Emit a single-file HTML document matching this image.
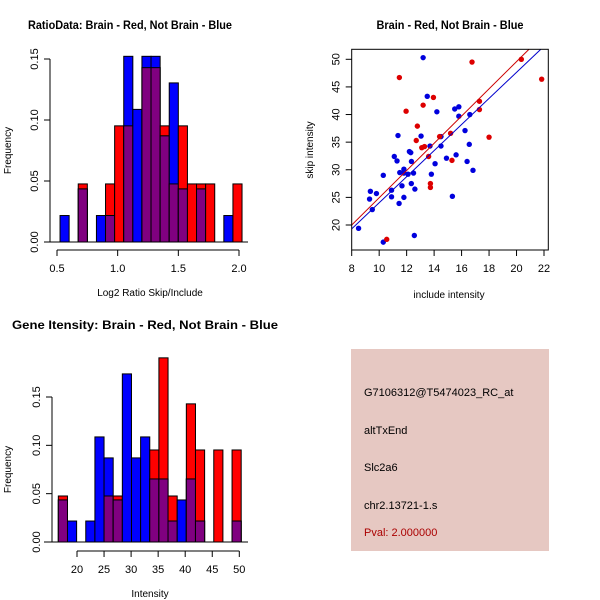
<!DOCTYPE html>
<html><head><meta charset="utf-8"><style>
body{margin:0;background:#fff;}
svg{display:block;font-family:"Liberation Sans",Arial,sans-serif;}
</style></head><body>
<svg id="chart" width="600" height="600" viewBox="0 0 600 600"></svg>
<script>
// ---- Panel 1: ratio histogram ----
const ratioStart = 0.525, ratioWidth = 0.075;
const ratioRed  = [0,0,0.0476,0,0,0.0476,0.0952,0.0952,0,0.1429,0.1429,0.0952,0.0476,0.0952,0.0476,0.0476,0.0476,0,0,0.0476];
const ratioBlue = [0.0217,0,0.0435,0,0.0217,0.0217,0,0.1522,0.1087,0.1522,0.1522,0.0870,0.1304,0.0435,0,0.0435,0,0,0.0217,0];
const ratioXTicks = [0.5,1.0,1.5,2.0];
const ratioXLabels = ["0.5","1.0","1.5","2.0"];
const ratioYTicks = [0,0.05,0.10,0.15];
const ratioYLabels = ["0.00","0.05","0.10","0.15"];
// ---- Panel 3: intensity histogram ----
const intStart = 16.55, intWidth = 1.69;
const intRed  = [0.0476,0,0,0,0,0.0476,0.0476,0,0,0,0.0952,0.1905,0.0476,0,0.1429,0.0952,0,0.0952,0,0.0952];
const intBlue = [0.0435,0.0217,0,0.0217,0.1087,0.0870,0.0435,0.1739,0.0870,0.1087,0.0652,0.0652,0.0217,0.0435,0.0652,0.0217,0,0,0,0.0217];
const intXTicks = [20,25,30,35,40,45,50];
const intXLabels = ["20","25","30","35","40","45","50"];
const intYTicks = [0,0.05,0.10,0.15];
const intYLabels = ["0.00","0.05","0.10","0.15"];
// ---- Panel 2: scatter ----
const redX = [11.47,16.76,20.35,21.83,13.95,13.2,11.96,17.3,17.3,12.78,12.7,13.1,13.3,13.6,14.4,15.2,15.3,18.0,13.73,13.73,10.55];
const redY = [46.7,49.5,50.0,46.4,43.1,41.7,40.6,42.4,40.9,37.9,35.3,34.0,34.2,32.4,36.0,36.6,31.7,35.9,27.5,26.8,17.4];
const blueX = [13.2,13.5,14.2,15.5,15.8,15.8,16.6,16.25,16.56,16.4,15.6,14.9,14.5,14.5,13.7,13.05,11.37,11.1,11.3,12.2,12.3,12.35,11.8,11.5,11.8,12.1,12.5,13.8,14.07,11.66,12.34,12.6,10.3,10.9,10.9,11.8,11.45,9.36,9.3,9.8,9.5,8.5,10.3,12.56,15.33,16.83];
const blueY = [50.3,43.3,40.5,41.0,41.4,39.7,40.0,37.1,34.6,31.5,32.7,32.1,36.0,34.3,34.3,36.1,36.2,32.4,31.6,33.3,33.1,31.5,30.1,29.5,29.4,29.2,29.4,29.2,31.1,27.1,27.5,26.5,29.0,26.3,25.1,25.0,23.9,26.1,24.7,25.7,22.8,19.4,16.9,18.1,25.2,29.9];
const redLine = [8,20.0,20.9,51.8];
const blueLine = [8,19.3,21.76,51.8];
const scXTicks = [8,10,12,14,16,18,20,22];
const scYTicks = [20,25,30,35,40,45,50];

const svg = document.getElementById('chart');
const NS = 'http://www.w3.org/2000/svg';
function mk(tag, attrs, parent){const e=document.createElementNS(NS,tag);for(const k in attrs)e.setAttribute(k,attrs[k]);(parent||svg).appendChild(e);return e;}
function txt(s, attrs, parent){const e=mk('text',attrs,parent);e.textContent=s;return e;}

function hist(g, name, start, w, red, blue, sx, sy, baseY, xTicks, xLabels, yTicks, yLabels, axisX, xAxisY, xlab, xlabY) {
  for (let i=0;i<red.length;i++){
    const x0=sx(start+i*w), x1=sx(start+(i+1)*w);
    const r=red[i], b=blue[i], m=Math.min(r,b);
    if (r>0){const e=mk('rect',{x:x0,y:sy(r),width:x1-x0,height:baseY-sy(r),fill:'#ff0000',stroke:'#000','stroke-width':1},g);
      
      }
    if (b>0){const e=mk('rect',{x:x0,y:sy(b),width:x1-x0,height:baseY-sy(b),fill:'#0000ff',stroke:'#000','stroke-width':1},g);
      
      }
    if (m>0){const e=mk('rect',{x:x0,y:sy(m),width:x1-x0,height:baseY-sy(m),fill:'#800080',stroke:'#000','stroke-width':1},g);
      
      }
  }
  mk('line',{x1:44,y1:baseY,x2:248,y2:baseY,stroke:'#000'},g);
  const ya=mk('g',{},g);
  
  
  mk('line',{x1:axisX,y1:sy(yTicks[0]),x2:axisX,y2:sy(yTicks[yTicks.length-1]),stroke:'#000'},ya);
  yTicks.forEach((t,i)=>{const y=sy(t);mk('line',{x1:axisX-6,y1:y,x2:axisX,y2:y,stroke:'#000'},ya);
    txt(yLabels[i],{x:0,y:0,transform:`translate(${axisX-12},${y}) rotate(-90)`,'text-anchor':'middle','font-size':11},ya);});
  const xa=mk('g',{},g);
  
  
  mk('line',{x1:sx(xTicks[0]),y1:xAxisY,x2:sx(xTicks[xTicks.length-1]),y2:xAxisY,stroke:'#000'},xa);
  xTicks.forEach((t,i)=>{const x=sx(t);mk('line',{x1:x,y1:xAxisY,x2:x,y2:xAxisY+6,stroke:'#000'},xa);
    txt(xLabels[i],{x:x,y:xAxisY+22,'text-anchor':'middle','font-size':11},xa);});
  const xt=txt(xlab,{x:150,y:xlabY,'text-anchor':'middle','font-size':10},g);
  
  
  const yt=txt('Frequency',{x:0,y:0,transform:`translate(11,${(sy(yTicks[0])+sy(yTicks[yTicks.length-1]))/2}) rotate(-90)`,'text-anchor':'middle','font-size':10},g);
  
  
}

const g1=mk('g',{});


const sx1=v=>57+(v-0.5)*(182/1.5), sy1=v=>242-v*(183/0.15);
hist(g1,'ratio',ratioStart,ratioWidth,ratioRed,ratioBlue,sx1,sy1,242,ratioXTicks,ratioXLabels,ratioYTicks,ratioYLabels,50,250,'Log2 Ratio Skip/Include',296);
const t1=txt('RatioData: Brain - Red, Not Brain - Blue',{x:28,y:29,'font-size':12,'font-weight':'bold',textLength:204,lengthAdjust:'spacingAndGlyphs'},g1);



const g3=mk('g',{});


const sx3=v=>77+(v-20)*(162.3/30), sy3=v=>542-v*(145/0.15);
hist(g3,'intensity',intStart,intWidth,intRed,intBlue,sx3,sy3,542,intXTicks,intXLabels,intYTicks,intYLabels,52,551,'Intensity',597);
const t3=txt('Gene Itensity: Brain - Red, Not Brain - Blue',{x:12,y:329,'font-size':12,'font-weight':'bold',textLength:266,lengthAdjust:'spacingAndGlyphs'},g3);



const g2=mk('g',{});


const sx2=v=>351.7+(v-8)*(192.3/14), sy2=v=>225-(v-20)*(165.7/30);
const L=351.7,R=548.3,T=49.3,B=250;
mk('defs',{},g2).innerHTML='<clipPath id="clp"><rect x="351.7" y="49.3" width="196.6" height="200.7"/></clipPath>';
const pts=mk('g',{'clip-path':'url(#clp)'},g2);
blueX.forEach((x,i)=>{const c=mk('circle',{cx:sx2(x),cy:sy2(blueY[i]),r:2.7,fill:'#0000dd'},pts);
  
  });
redX.forEach((x,i)=>{const c=mk('circle',{cx:sx2(x),cy:sy2(redY[i]),r:2.7,fill:'#dd0000'},pts);
  
  });
const rl=mk('line',{x1:sx2(redLine[0]),y1:sy2(redLine[1]),x2:sx2(redLine[2]),y2:sy2(redLine[3]),stroke:'#cc0000','stroke-width':1},pts);


const bl=mk('line',{x1:sx2(blueLine[0]),y1:sy2(blueLine[1]),x2:sx2(blueLine[2]),y2:sy2(blueLine[3]),stroke:'#0000cc','stroke-width':1},pts);


const box=mk('rect',{x:L,y:T,width:R-L,height:B-T,fill:'none',stroke:'#000'},g2);


scXTicks.forEach(t=>{const x=sx2(t);mk('line',{x1:x,y1:B,x2:x,y2:B+6,stroke:'#000'},g2);
  txt(String(t),{x:x,y:B+22,'text-anchor':'middle','font-size':11},g2);});
scYTicks.forEach(t=>{const y=sy2(t);mk('line',{x1:L-6,y1:y,x2:L,y2:y,stroke:'#000'},g2);
  txt(String(t),{x:0,y:0,transform:`translate(${L-12},${y}) rotate(-90)`,'text-anchor':'middle','font-size':11},g2);});
const xl2=txt('include intensity',{x:449,y:298,'text-anchor':'middle','font-size':10},g2);


const yl2=txt('skip intensity',{x:0,y:0,transform:'translate(313,150) rotate(-90)','text-anchor':'middle','font-size':10},g2);


const t2=txt('Brain - Red, Not Brain - Blue',{x:450,y:29,'text-anchor':'middle','font-size':12,'font-weight':'bold',textLength:147,lengthAdjust:'spacingAndGlyphs'},g2);


</script>
<svg style="position:absolute;left:0;top:0" width="600" height="600">
  <g font-family="Liberation Sans, Arial, sans-serif" font-size="11">
    <rect x="351" y="349" width="198" height="202" fill="#e6c8c2"/>
    <text x="364" y="396">G7106312@T5474023_RC_at</text>
    <text x="364" y="434">altTxEnd</text>
    <text x="364" y="471">Slc2a6</text>
    <text x="364" y="509">chr2.13721-1.s</text>
    <text x="364" y="536" fill="#aa0000">Pval: 2.000000</text>
  </g>
</svg>
</body></html>
